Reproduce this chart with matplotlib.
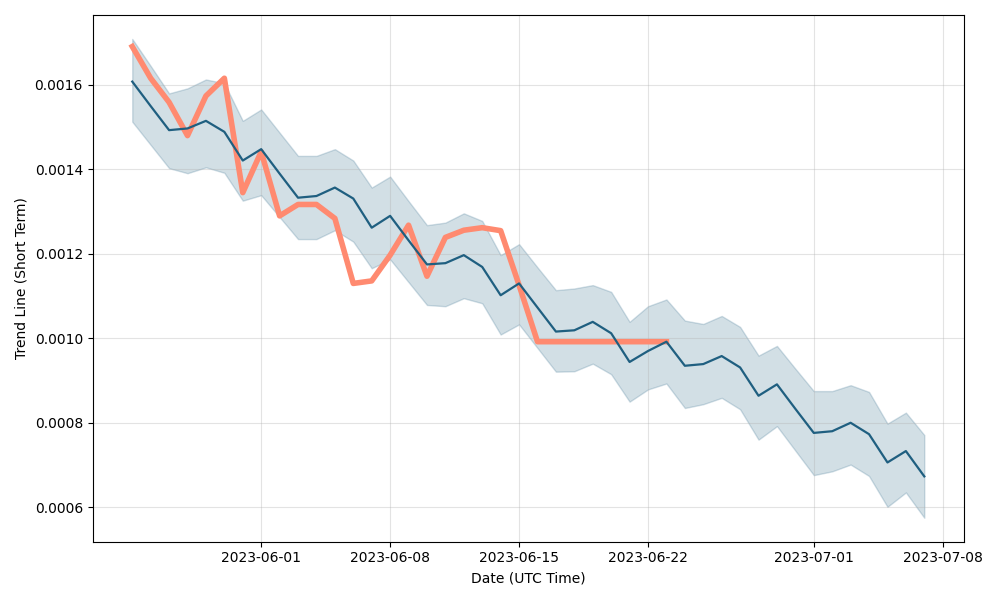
import matplotlib
matplotlib.use("Agg")
import matplotlib.pyplot as plt
import numpy as np
import pandas as pd

# daily dates, 2023-05-25 .. 2023-07-07
dates = pd.date_range("2023-05-25", "2023-07-07", freq="D")

trend = [0.001608, 0.001550, 0.001493, 0.001497, 0.001515, 0.001489, 0.001421, 0.001448,
         0.001390, 0.001333, 0.001337, 0.001357, 0.001331, 0.001262, 0.001290, 0.001232,
         0.001175, 0.001178, 0.001197, 0.001169, 0.001102, 0.001130, 0.001073, 0.001016,
         0.001019, 0.001039, 0.001012, 0.000944, 0.000970, 0.000992, 0.000935, 0.000939,
         0.000958, 0.000931, 0.000864, 0.000891, 0.000833, 0.000776, 0.000780, 0.000800,
         0.000773, 0.000706, 0.000733, 0.000673]

upper = [0.001709, 0.001645, 0.001580, 0.001592, 0.001613, 0.001604, 0.001515, 0.001542,
         0.001487, 0.001432, 0.001432, 0.001448, 0.001421, 0.001357, 0.001383, 0.001325,
         0.001268, 0.001274, 0.001296, 0.001278, 0.001197, 0.001223, 0.001168, 0.001114,
         0.001118, 0.001126, 0.001110, 0.001039, 0.001076, 0.001092, 0.001042, 0.001034,
         0.001053, 0.001027, 0.000959, 0.000982, 0.000928, 0.000875, 0.000875, 0.000889,
         0.000873, 0.000798, 0.000824, 0.000771]

lower = [0.001513, 0.001458, 0.001403, 0.001391, 0.001405, 0.001392, 0.001326, 0.001339,
         0.001287, 0.001235, 0.001235, 0.001256, 0.001229, 0.001166, 0.001187, 0.001133,
         0.001079, 0.001076, 0.001095, 0.001083, 0.001009, 0.001033, 0.000977, 0.000921,
         0.000922, 0.000940, 0.000915, 0.000850, 0.000879, 0.000893, 0.000835, 0.000844,
         0.000859, 0.000832, 0.000760, 0.000792, 0.000734, 0.000676, 0.000685, 0.000701,
         0.000674, 0.000601, 0.000635, 0.000575]

# actual price, 2023-05-25 .. 2023-06-23
price = [0.001691, 0.001616, 0.001559, 0.001480, 0.001574, 0.001616, 0.001345, 0.001442,
         0.001290, 0.001317, 0.001317, 0.001284, 0.001130, 0.001136, 0.001197, 0.001268,
         0.001147, 0.001239, 0.001256, 0.001262, 0.001255, 0.001126, 0.000992, 0.000992,
         0.000992, 0.000992, 0.000992, 0.000992, 0.000992, 0.000992]

blue = "#1f5f80"

fig, ax = plt.subplots(figsize=(10, 6), dpi=100)
ax.plot(dates[:len(price)], price, color="#ff8a70", linewidth=4, zorder=2)
ax.fill_between(dates, lower, upper, color=blue, alpha=0.2, zorder=1)
ax.plot(dates, trend, color=blue, linewidth=1.6, zorder=3)

ax.grid(True, alpha=0.35)
ax.set_xlabel("Date (UTC Time)")
ax.set_ylabel("Trend Line (Short Term)")

plt.tight_layout()
plt.savefig("out.png")
